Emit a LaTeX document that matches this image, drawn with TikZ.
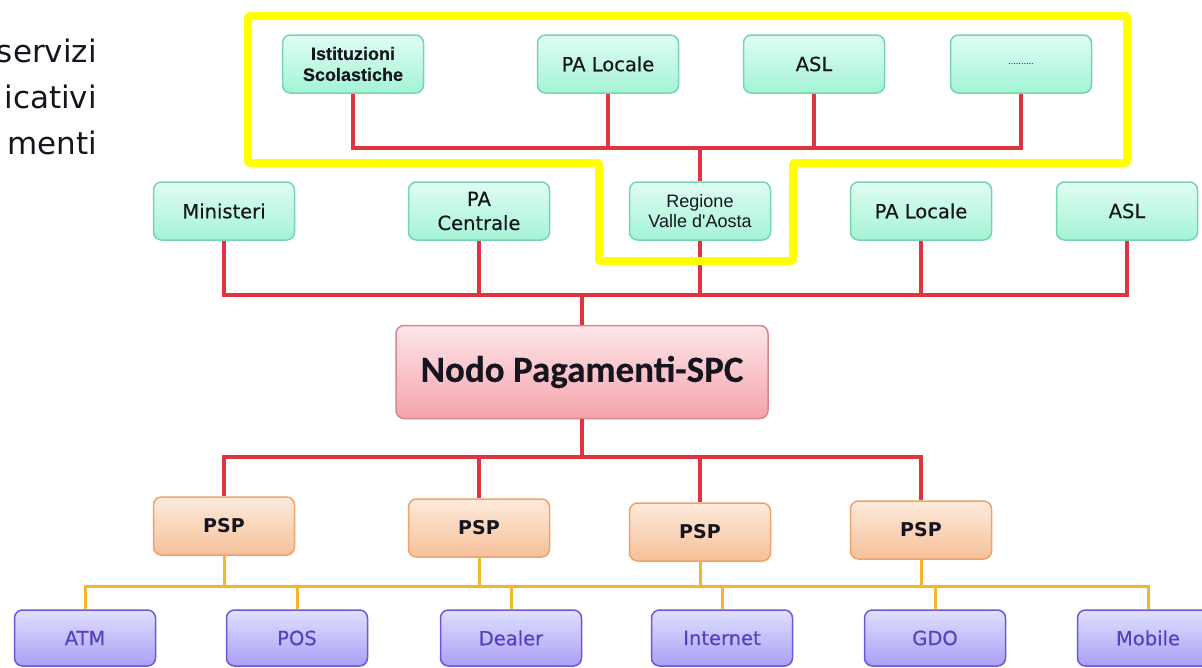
\documentclass[tikz,border=0pt]{standalone}
\usepackage{fontspec}
\setmainfont{DejaVu Sans}
\newfontfamily\dvfont[FakeBold=0.35]{DejaVu Sans}
\newfontfamily\libfont{Liberation Sans}
\newfontfamily\libfontb[FakeBold=0.3]{Liberation Sans Bold}
\newfontfamily\carlfont[FakeBold=0.3]{Carlito Bold}
\definecolor{redln}{HTML}{E03440}
\definecolor{orln}{HTML}{F5B52E}
\definecolor{yfr}{HTML}{FFFF00}
\definecolor{txt}{HTML}{15151F}
\definecolor{purtxt}{HTML}{5A3FC0}
\definecolor{gdraw}{HTML}{74D6AD}
\definecolor{gtop}{HTML}{E0FDF2}
\definecolor{gbot}{HTML}{A4F3D6}
\definecolor{pdraw}{HTML}{D8858E}
\definecolor{ptop}{HTML}{FDE6E8}
\definecolor{pbot}{HTML}{F4A3AC}
\definecolor{odraw}{HTML}{EEA36E}
\definecolor{otop}{HTML}{FDEBDC}
\definecolor{obot}{HTML}{F6C098}
\definecolor{udraw}{HTML}{6A58D8}
\definecolor{utop}{HTML}{E0E0FF}
\definecolor{ubot}{HTML}{A99FF4}
\tikzset{
  box/.style={rounded corners=8pt, line width=1.5pt, minimum width=141pt, minimum height=58pt, inner sep=0pt, align=center, text=txt},
  greenbox/.style={box, draw=gdraw, top color=gtop, bottom color=gbot},
  pinkbox/.style={box, draw=pdraw, top color=ptop, bottom color=pbot, minimum width=372pt, minimum height=93pt},
  pspbox/.style={box, draw=odraw, top color=otop, bottom color=obot},
  purbox/.style={box, draw=udraw, top color=utop, bottom color=ubot, minimum height=56pt, text=purtxt},
  redline/.style={draw=redln, line width=3.5pt},
  orline/.style={draw=orln, line width=3pt},
  dvtext/.style={font=\dvfont\fontsize{19.5}{24}\selectfont},
  psptext/.style={font=\bfseries\fontsize{19}{24}\selectfont},
  libtext/.style={font=\libfont\fontsize{18}{20}\selectfont},
  sidetext/.style={font=\fontsize{31}{38}\selectfont, text=txt, anchor=base east, inner sep=0pt},
}
\begin{document}
\begin{tikzpicture}[x=1pt,y=-1pt]
\useasboundingbox (0,0) rectangle (1202,667);
\fill[white] (0,0) rectangle (1202,667);

% side text (cropped in the original)
\node[sidetext] (s1) at (97,62) {servizi};
\node[sidetext] (s2) at (97,108) {icativi};
\node[sidetext] (s3) at (97,154) {menti};

% top row
\node[greenbox, font=\libfontb\fontsize{18}{21}\selectfont] (ist) at (353,64) {Istituzioni\\Scolastiche};
\node[greenbox, dvtext] (pal1) at (608,64) {PA Locale};
\node[greenbox, dvtext] (asl1) at (814,64) {ASL};
\node[greenbox, font=\fontsize{8}{10}\selectfont] (dots) at (1021,64) {..........};

% second row
\node[greenbox, dvtext] (min) at (224,211) {Ministeri};
\node[greenbox, dvtext] (pac) at (479,211) {PA\\Centrale};
\node[greenbox, libtext] (reg) at (700,211) {Regione\\Valle d'Aosta};
\node[greenbox, dvtext] (pal2) at (921,211) {PA Locale};
\node[greenbox, dvtext] (asl2) at (1127,211) {ASL};

% central node
\node[pinkbox, font=\carlfont\fontsize{37}{40}\selectfont] (nodo) at (582,372) {Nodo Pagamenti-SPC};

% PSP row
\node[pspbox, psptext] (psp1) at (224,526) {PSP};
\node[pspbox, psptext] (psp2) at (479,528) {PSP};
\node[pspbox, psptext] (psp3) at (700,532) {PSP};
\node[pspbox, psptext] (psp4) at (921,530) {PSP};

% bottom row
\node[purbox, dvtext] (atm) at (85,638) {ATM};
\node[purbox, dvtext] (pos) at (297,638) {POS};
\node[purbox, dvtext] (dealer) at (511,638) {Dealer};
\node[purbox, dvtext] (internet) at (722,638) {Internet};
\node[purbox, dvtext] (gdo) at (935,638) {GDO};
\node[purbox, dvtext] (mob) at (1148,638) {Mobile};

% bus coordinates
\coordinate (b1) at (700,148);
\coordinate (b2) at (582,295);
\coordinate (b3) at (582,457);
\coordinate (b4) at (600,586);

% top connectors
\draw[redline] (ist.south) |- (dots.south |- b1) -- (dots.south);
\draw[redline] (pal1.south) -- (pal1.south |- b1);
\draw[redline] (asl1.south) -- (asl1.south |- b1);
\draw[redline] (b1) -- (reg.north);

% second row connectors
\draw[redline] (min.south) |- (asl2.south |- b2) -- (asl2.south);
\draw[redline] (pac.south) -- (pac.south |- b2);
\draw[redline] (reg.south) -- (reg.south |- b2);
\draw[redline] (pal2.south) -- (pal2.south |- b2);
\draw[redline] (b2) -- (nodo.north);

% PSP connectors
\draw[redline] (psp1.north) |- (psp4.north |- b3) -- (psp4.north);
\draw[redline] (psp2.north) -- (psp2.north |- b3);
\draw[redline] (psp3.north) -- (psp3.north |- b3);
\draw[redline] (nodo.south) -- (b3);

% bottom connectors
\draw[orline] (atm.north) |- (mob.north |- b4) -- (mob.north);
\draw[orline] (pos.north) -- (pos.north |- b4);
\draw[orline] (dealer.north) -- (dealer.north |- b4);
\draw[orline] (internet.north) -- (internet.north |- b4);
\draw[orline] (gdo.north) -- (gdo.north |- b4);
\draw[orline] (psp1.south) -- (psp1.south |- b4);
\draw[orline] (psp2.south) -- (psp2.south |- b4);
\draw[orline] (psp3.south) -- (psp3.south |- b4);
\draw[orline] (psp4.south) -- (psp4.south |- b4);

% yellow frame
\draw[yfr, line width=8pt, rounded corners=2pt] (248,16) -- (1127,16) -- (1127,163) -- (793,163) -- (793,261) -- (599,261) -- (599,163) -- (248,163) -- cycle;
\end{tikzpicture}
\end{document}
